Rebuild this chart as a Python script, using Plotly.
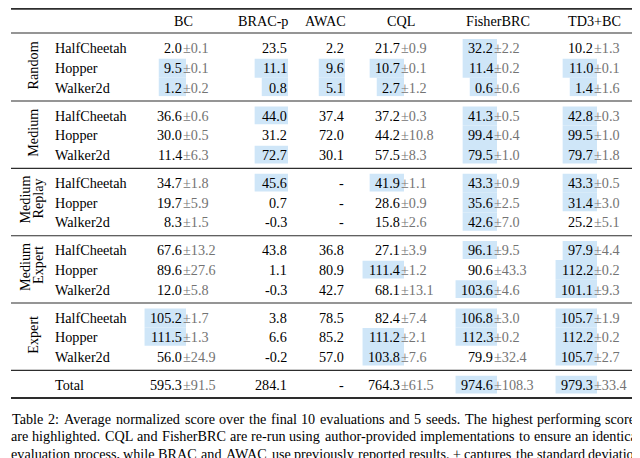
import plotly.graph_objects as go

# ---------------- data ----------------
methods = ["BC", "BRAC-p", "AWAC", "CQL", "FisherBRC", "TD3+BC"]
groups = [["Random"], ["Medium"], ["Medium", "Replay"], ["Medium", "Expert"], ["Expert"]]
envs = ["HalfCheetah", "Hopper", "Walker2d"]

bc_mean = ["2.0", "9.5", "1.2", "36.6", "30.0", "11.4", "34.7", "19.7", "8.3",
           "67.6", "89.6", "12.0", "105.2", "111.5", "56.0", "595.3"]
bc_std = ["0.1", "0.1", "0.2", "0.6", "0.5", "6.3", "1.8", "5.9", "1.5",
          "13.2", "27.6", "5.8", "1.7", "1.3", "24.9", "91.5"]
brac_mean = ["23.5", "11.1", "0.8", "44.0", "31.2", "72.7", "45.6", "0.7", "-0.3",
             "43.8", "1.1", "-0.3", "3.8", "6.6", "-0.2", "284.1"]
awac_mean = ["2.2", "9.6", "5.1", "37.4", "72.0", "30.1", "-", "-", "-",
             "36.8", "80.9", "42.7", "78.5", "85.2", "57.0", "-"]
cql_mean = ["21.7", "10.7", "2.7", "37.2", "44.2", "57.5", "41.9", "28.6", "15.8",
            "27.1", "111.4", "68.1", "82.4", "111.2", "103.8", "764.3"]
cql_std = ["0.9", "0.1", "1.2", "0.3", "10.8", "8.3", "1.1", "0.9", "2.6",
           "3.9", "1.2", "13.1", "7.4", "2.1", "7.6", "61.5"]
fbrc_mean = ["32.2", "11.4", "0.6", "41.3", "99.4", "79.5", "43.3", "35.6", "42.6",
             "96.1", "90.6", "103.6", "106.8", "112.3", "79.9", "974.6"]
fbrc_std = ["2.2", "0.2", "0.6", "0.5", "0.4", "1.0", "0.9", "2.5", "7.0",
            "9.5", "43.3", "4.6", "3.0", "0.2", "32.4", "108.3"]
td3_mean = ["10.2", "11.0", "1.4", "42.8", "99.5", "79.7", "43.3", "31.4", "25.2",
            "97.9", "112.2", "101.1", "105.7", "112.2", "105.7", "979.3"]
td3_std = ["1.3", "0.1", "1.6", "0.3", "1.0", "1.8", "0.5", "3.0", "5.1",
           "4.4", "0.2", "9.3", "1.9", "0.2", "2.7", "33.4"]

bc_hl =   [0,1,1, 0,0,0, 0,0,0, 0,0,0, 1,1,0, 0]
brac_hl = [0,1,1, 1,0,1, 1,0,0, 0,0,0, 0,0,0, 0]
awac_hl = [0,1,1, 0,0,0, 0,0,0, 0,0,0, 0,0,0, 0]
cql_hl =  [0,1,1, 0,0,0, 1,0,0, 0,1,0, 0,1,1, 0]
fbrc_hl = [1,1,1, 1,1,1, 1,1,1, 1,0,1, 1,1,0, 1]
td3_hl =  [0,1,1, 1,1,1, 1,1,0, 1,1,1, 1,1,1, 1]

caption_lines = [
    "Table 2: Average normalized score over the final 10 evaluations and 5 seeds. The highest performing scores",
    "are highlighted. CQL and FisherBRC are re-run using author-provided implementations to ensure an identical",
    "evaluation process, while BRAC and AWAC use previously reported results. \u00b1 captures the standard deviation",
    "over seeds. TD3+BC achieves effectively the same performances as the state-of-the-art FisherBRC, despite",
]

# ---------------- layout constants ----------------
FONT = "Liberation Serif"
FS = 14.2
CAP_FS = 14.2
col_box_right = [178, 280, 337, 396, 489, 589]
col_header = [175, 255, 317, 392.5, 490, 586]
first_row_y = 40.3
row_h = 19.6
group_step = 67.34
header_y = 12.5
x_left, x_right = 3, 633
hl_color = "rgb(207,230,248)"
std_color = "rgb(115,115,115)"
rule_color = "rgb(45,45,45)"

means = [bc_mean, brac_mean, awac_mean, cql_mean, fbrc_mean, td3_mean]
stds = [bc_std, None, None, cql_std, fbrc_std, td3_std]
hls = [bc_hl, brac_hl, awac_hl, cql_hl, fbrc_hl, td3_hl]

# Times-compatible advance widths (per em)
W = {" ": .25, "!": .333, ",": .25, "-": .333, ".": .25, ":": .278, "+": .564,
     "\u00b1": .564, "(": .333, ")": .333,
     "A": .722, "B": .667, "C": .667, "D": .722, "E": .611, "F": .556, "G": .722,
     "H": .722, "I": .333, "J": .389, "K": .722, "L": .611, "M": .889, "N": .722,
     "O": .722, "P": .556, "Q": .722, "R": .667, "S": .556, "T": .611, "U": .722,
     "V": .722, "W": .944, "X": .722, "Y": .722, "Z": .611,
     "a": .444, "b": .5, "c": .444, "d": .5, "e": .444, "f": .333, "g": .5, "h": .5,
     "i": .278, "j": .278, "k": .5, "l": .278, "m": .778, "n": .5, "o": .5, "p": .5,
     "q": .5, "r": .333, "s": .389, "t": .278, "u": .5, "v": .5, "w": .722, "x": .5,
     "y": .5, "z": .444}

def text_w(s, fs):
    return sum(W.get(ch, 0.5) for ch in s) * fs

def row_y(i):
    if i < 15:
        g, r = divmod(i, 3)
        return first_row_y + g * group_step + r * row_h
    return first_row_y + 5 * group_step

fig = go.Figure()
shapes = []
ann = []

def add_text(x, y, text, xanchor="left", color="black", size=FS, angle=0):
    ann.append(dict(x=x, y=y, text=text, xanchor=xanchor, yanchor="middle",
                    showarrow=False, borderpad=0, borderwidth=0, textangle=angle,
                    font=dict(family=FONT, size=size, color=color)))

# highlight boxes
for c in range(len(methods)):
    has_std = stds[c] is not None
    for i, v in enumerate(means[c]):
        if not hls[c][i]:
            continue
        y = row_y(i)
        B = col_box_right[c]
        if has_std:
            x0 = B - 4.5 - text_w(v, FS) - 5
        else:
            x0 = B - 1 - text_w(v, FS) - 7.5
        same_group_prev = i < 15 and i % 3 > 0 and hls[c][i - 1]
        same_group_next = i < 15 and i % 3 < 2 and hls[c][i + 1]
        top = y - row_h / 2 if same_group_prev else y - 9.2
        bot = y + row_h / 2 if same_group_next else y + 8.6
        shapes.append(dict(type="rect", xref="x", yref="y", x0=x0, x1=B,
                           y0=top, y1=bot, fillcolor=hl_color, line_width=0,
                           layer="below"))

def rule(y, w):
    shapes.append(dict(type="line", xref="x", yref="y", x0=x_left, x1=x_right,
                       y0=y, y1=y, line=dict(color=rule_color, width=w)))

rule(0.8, 1.8)
rule(first_row_y - 15.3, 1.1)
for g in range(5):
    rule(row_y(g * 3 + 2) + 13.5, 1.1)
rule(row_y(15) + 13, 1.8)

# header
for c, m in enumerate(methods):
    add_text(col_header[c], header_y, m, xanchor="center")

# group labels (rotated)
for g, parts in enumerate(groups):
    yc = row_y(g * 3 + 1) - 2.5
    if len(parts) == 1:
        add_text(25, yc, parts[0], xanchor="center", angle=-90)
    else:
        add_text(17.5, yc, parts[0], xanchor="center", angle=-90)
        add_text(30.5, yc - 2, parts[1], xanchor="center", angle=-90)

# environment labels
for i in range(16):
    label = envs[i % 3] if i < 15 else "Total"
    add_text(46.5, row_y(i), label)

# values
for c in range(len(methods)):
    B = col_box_right[c]
    has_std = stds[c] is not None
    for i, v in enumerate(means[c]):
        y = row_y(i)
        if has_std:
            add_text(B - 4.5, y, v, xanchor="right")
            add_text(B - 3, y, "\u00b1" + stds[c][i], color=std_color)
        else:
            add_text(B - 1, y, v, xanchor="right")

# caption, justified word by word
cap_y0, cap_dy = 410.5, 17.5
for k, line in enumerate(caption_lines):
    words = line.split(" ")
    widths = [text_w(w_, CAP_FS) for w_ in words]
    gap = (x_right - x_left - sum(widths)) / (len(words) - 1)
    x = x_left
    for w_, wd in zip(words, widths):
        add_text(x + wd / 2, cap_y0 + k * cap_dy, w_, xanchor="center", size=CAP_FS)
        x += wd + gap

fig.update_layout(
    width=640, height=458,
    margin=dict(l=0, r=0, t=0, b=0),
    paper_bgcolor="white", plot_bgcolor="white",
    xaxis=dict(range=[0, 640], visible=False, fixedrange=True),
    yaxis=dict(range=[458, 0], visible=False, fixedrange=True),
    shapes=shapes, annotations=ann, showlegend=False,
)
fig.write_html("out.html")
